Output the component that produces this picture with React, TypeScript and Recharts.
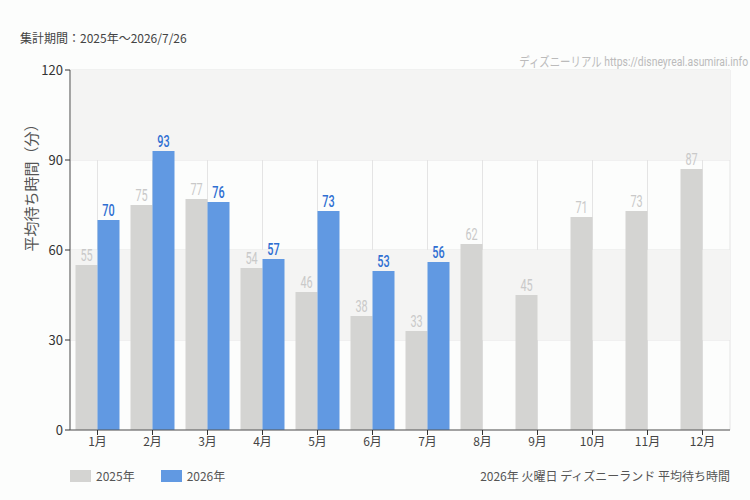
import React from 'react';
import { BarChart, Bar, XAxis, YAxis, CartesianGrid, ReferenceArea, LabelList } from 'recharts';

const months = ['1月', '2月', '3月', '4月', '5月', '6月', '7月', '8月', '9月', '10月', '11月', '12月'];
const wait2025 = [55, 75, 77, 54, 46, 38, 33, 62, 45, 71, 73, 87];
const wait2026: (number | null)[] = [70, 93, 76, 57, 73, 53, 56, null, null, null, null, null];
const yTicks = [0, 30, 60, 90, 120];
const seriesNames = ['2025年', '2026年'];

const GRAY = '#d4d4d2';
const BLUE = '#6199e2';
const FONT = "'Noto Sans CJK JP', 'Noto Sans', sans-serif";

const rows = months.map((m, i) => ({ month: m, y2025: wait2025[i], y2026: wait2026[i] }));

// narrow digits above the bars
const makeLabel = (color: string, weight: number) => (props: any) => {
  const { x, y, width, value } = props;
  if (value == null) return null;
  const cx = x + width / 2;
  const cy = y - 4;
  return (
    <text
      x={cx}
      y={cy}
      textAnchor="middle"
      fill={color}
      fontSize={16}
      fontWeight={weight}
      fontFamily="Roboto, sans-serif"
      transform={`translate(${cx},${cy}) scale(0.68,1) translate(${-cx},${-cy})`}
    >
      {value}
    </text>
  );
};

const YTitle = () => (
  <text x={30} y={184} transform="rotate(-90,30,184)" textAnchor="middle" dominantBaseline="central"
    fill="#555" fontSize={15} fontFamily={FONT}>
    平均待ち時間（分）
  </text>
);

const LegendRow = () => (
  <div style={{ position: 'absolute', left: 70, top: 467, width: 660, display: 'flex', alignItems: 'center', fontSize: 12, color: '#555' }}>
    <span style={{ display: 'inline-block', width: 21, height: 12, background: GRAY, marginRight: 5 }} />
    <span style={{ marginRight: 26 }}>{seriesNames[0]}</span>
    <span style={{ display: 'inline-block', width: 21, height: 12, background: BLUE, marginRight: 5 }} />
    <span>{seriesNames[1]}</span>
    <span style={{ marginLeft: 'auto' }}>2026年 火曜日 ディズニーランド 平均待ち時間</span>
  </div>
);

export default function App() {
  return (
    <div style={{ position: 'absolute', left: 0, top: 0, width: 750, height: 500, background: '#fcfdfc', fontFamily: FONT }}>
      <div style={{ position: 'absolute', left: 20, top: 29, fontSize: 12, color: '#444' }}>
        集計期間：2025年〜2026/7/26
      </div>
      <div style={{ position: 'absolute', right: 2, top: 51, fontSize: 13, color: '#bbb', transform: 'scaleX(0.8)', transformOrigin: 'right center', fontFamily: 'Roboto, ' + FONT }}>
        ディズニーリアル https://disneyreal.asumirai.info
      </div>
      <BarChart
        width={750}
        height={500}
        data={rows}
        margin={{ top: 70, right: 20, bottom: 40, left: 0 }}
        barCategoryGap="10%"
        barGap={0}
      >
        <ReferenceArea y1={90} y2={120} fill="#f4f4f3" fillOpacity={1} stroke="none" />
        <ReferenceArea y1={30} y2={60} fill="#f4f4f3" fillOpacity={1} stroke="none" />
        <CartesianGrid stroke="#e4e4e4" />
        <XAxis
          dataKey="month"
          height={30}
          tick={{ fill: '#444', fontSize: 12, fontFamily: FONT }}
          tickSize={5}
          tickLine={{ stroke: '#333' }}
          axisLine={{ stroke: '#555' }}
        />
        <YAxis
          width={70}
          domain={[0, 120]}
          ticks={yTicks}
          tick={{ fill: '#333', fontSize: 13, fontFamily: FONT }}
          tickSize={5}
          tickLine={{ stroke: '#333' }}
          axisLine={{ stroke: '#555' }}
          label={<YTitle />}
        />
        <Bar dataKey="y2025" name={seriesNames[0]} fill={GRAY} isAnimationActive={false}>
          <LabelList dataKey="y2025" content={makeLabel('#c9c9c9', 400)} />
        </Bar>
        <Bar dataKey="y2026" name={seriesNames[1]} fill={BLUE} isAnimationActive={false}>
          <LabelList dataKey="y2026" content={makeLabel('#2f6fd2', 500)} />
        </Bar>
      </BarChart>
      <LegendRow />
    </div>
  );
}
